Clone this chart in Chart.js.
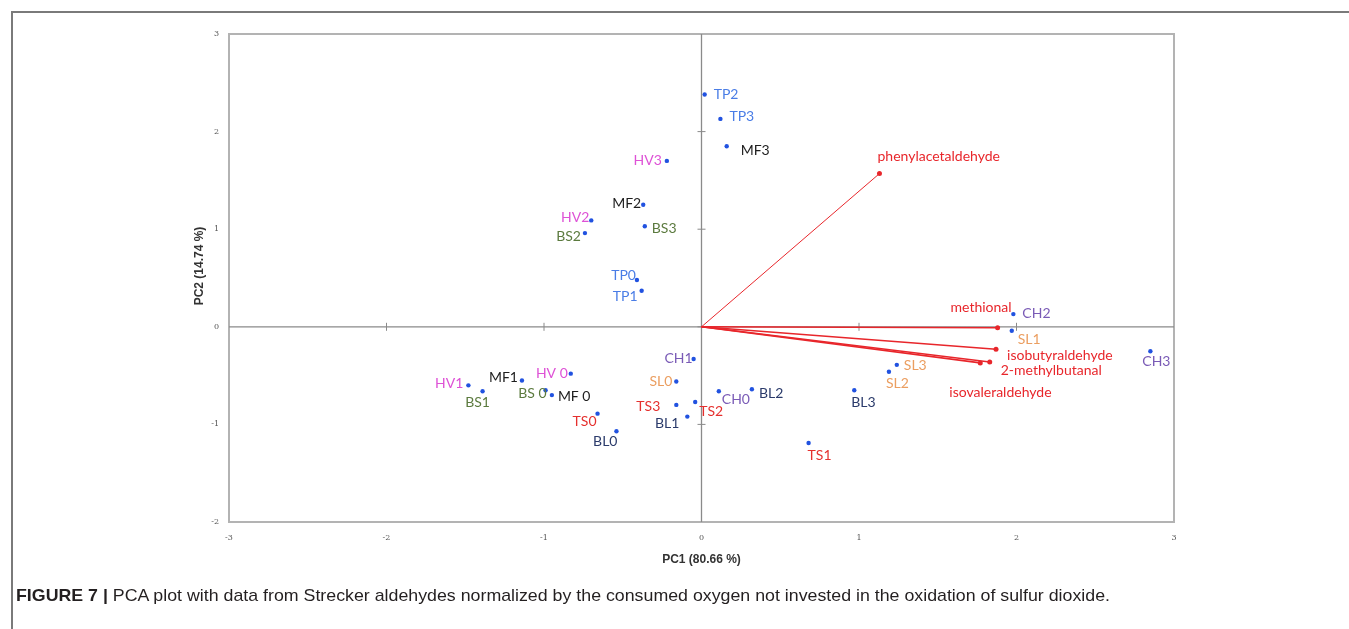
<!DOCTYPE html>
<html>
<head>
<meta charset="utf-8">
<script src="https://cdn.jsdelivr.net/npm/chart.js@4.4.1/dist/chart.umd.min.js"></script>
<style>
  html, body { margin:0; padding:0; background:#fff; }
  #wrap { position:relative; width:1349px; height:629px; overflow:hidden; }
  #frameTop { position:absolute; left:11px; top:11px; width:1338px; height:0; border-top:2px solid #7a7a7a; }
  #frameLeft { position:absolute; left:11px; top:11px; width:0; height:618px; border-left:2px solid #7a7a7a; }
  #cv { position:absolute; left:0; top:0; }
  #caption { position:absolute; left:16px; top:586px; white-space:nowrap; font-family:"Liberation Sans", Arial, sans-serif; font-size:17px; color:#231f20; transform-origin:0 0; }
  #caption b { font-weight:bold; }
</style>
</head>
<body>
<div id="wrap">
  <div id="frameTop"></div>
  <div id="frameLeft"></div>
  <canvas id="cv" width="1349" height="629"></canvas>
  <div id="caption"><b>FIGURE 7 |</b> PCA plot with data from Strecker aldehydes normalized by the consumed oxygen not invested in the oxidation of sulfur dioxide.</div>
</div>
<script>
// ---- data ----
const scoreLabels = ["TP2","TP3","MF3","HV3","MF2","BS3","HV2","BS2","TP0","TP1","CH2","SL1","CH3","SL3","SL2","BL3","BL2","CH0","CH1","SL0","TS3","TS2","BL1","TS1","HV1","BS1","MF1","HV 0","BS 0","MF 0","TS0","BL0"];
const scoreX = [0.02,0.12,0.16,-0.22,-0.37,-0.36,-0.70,-0.74,-0.41,-0.38,1.98,1.97,2.85,1.24,1.19,0.97,0.32,0.11,-0.05,-0.16,-0.16,-0.04,-0.09,0.68,-1.48,-1.39,-1.14,-0.83,-0.99,-0.95,-0.66,-0.54];
const scoreY = [2.38,2.13,1.85,1.70,1.25,1.03,1.09,0.96,0.48,0.37,0.13,-0.04,-0.25,-0.39,-0.46,-0.65,-0.64,-0.66,-0.33,-0.56,-0.80,-0.77,-0.92,-1.19,-0.60,-0.66,-0.55,-0.48,-0.65,-0.70,-0.89,-1.07];
const loadingNames = ["phenylacetaldehyde","methional","isobutyraldehyde","2-methylbutanal","isovaleraldehyde"];
const loadingX = [1.13,1.88,1.87,1.83,1.77];
const loadingY = [1.57,-0.01,-0.23,-0.36,-0.37];
const xTicks = [-3,-2,-1,0,1,2,3];
const yTicks = [-2,-1,0,1,2,3];
const xTitle = "PC1 (80.66 %)";
const yTitle = "PC2 (14.74 %)";

// ---- label styling (offsets relative to the point, px) ----
const groupColors = { TP:"#4a7de6", MF:"#1e1e1e", HV:"#de52d6", BS:"#5b7a3e", TS:"#e5302e", BL:"#2b3b6b", CH:"#7a5bb6", SL:"#eb9e60" };
const loadingColor = "#e8262b";
const scoreLabelPlace = {
  "TP2":[9,0,"left"], "TP3":[9,-2,"left"], "MF3":[14,4,"left"], "HV3":[-5,0,"right"],
  "MF2":[-2,-1,"right"], "BS3":[7,2,"left"], "HV2":[-2,-3,"right"], "BS2":[-4,3,"right"],
  "TP0":[-1,-4,"right"], "TP1":[-4,6,"right"], "CH2":[9,-1,"left"], "SL1":[6,9,"left"],
  "CH3":[6,10,"center"], "SL3":[7,1,"left"], "SL2":[-3,12,"left"], "BL3":[-3,12,"left"],
  "BL2":[7,4,"left"], "CH0":[3,8,"left"], "CH1":[-1,-1,"right"], "SL0":[-4,0,"right"],
  "TS3":[-16,2,"right"], "TS2":[4,10,"left"], "BL1":[-8,7,"right"], "TS1":[-1,13,"left"],
  "HV1":[-5,-2,"right"], "BS1":[-5,11,"center"], "MF1":[-4,-3,"right"], "HV 0":[-3,0,"right"],
  "BS 0":[1,3,"right"], "MF 0":[6,1,"left"], "TS0":[-1,8,"right"], "BL0":[1,10,"right"]
};
const loadingLabelPlace = {
  "phenylacetaldehyde":[-2,-17,"left"], "methional":[14,-20,"right"],
  "isobutyraldehyde":[11,6,"left"], "2-methylbutanal":[11,9,"left"], "isovaleraldehyde":[-31,30,"left"]
};

// ---- datasets ----
const scorePoints = scoreLabels.map((l,i)=>({x:scoreX[i], y:scoreY[i]}));
const loadingSets = loadingNames.map((n,i)=>({
  label:n, type:"scatter", showLine:true,
  data:[{x:0,y:0},{x:loadingX[i],y:loadingY[i]}],
  borderColor:loadingColor, backgroundColor:loadingColor,
  borderWidth: i===0 ? 1 : 1.6, pointRadius:[0,2.5], pointBorderWidth:0
}));

const framePlugin = {
  id:"frame",
  beforeDatasetsDraw(chart){
    const {ctx, chartArea:a, scales:{x,y}} = chart;
    ctx.save();
    ctx.strokeStyle="#b3b3b3"; ctx.lineWidth=2;
    ctx.strokeRect(a.left, a.top, a.right-a.left, a.bottom-a.top);
    const x0 = x.getPixelForValue(0), y0 = y.getPixelForValue(0);
    ctx.strokeStyle="#8a8a8a"; ctx.lineWidth=1.3;
    ctx.beginPath(); ctx.moveTo(a.left,y0); ctx.lineTo(a.right,y0);
    ctx.moveTo(x0,a.top); ctx.lineTo(x0,a.bottom); ctx.stroke();
    ctx.lineWidth=1;
    ctx.beginPath();
    xTicks.forEach(v=>{ if(v>x.min && v<x.max){ const px=x.getPixelForValue(v); ctx.moveTo(px,y0-4); ctx.lineTo(px,y0+4);} });
    yTicks.forEach(v=>{ if(v>y.min && v<y.max){ const py=y.getPixelForValue(v); ctx.moveTo(x0-4,py); ctx.lineTo(x0+4,py);} });
    ctx.stroke();
    // y axis title (drawn slightly above the axis centre, as in the source)
    ctx.save();
    ctx.translate(200, (a.top+a.bottom)/2 - 12);
    ctx.rotate(-Math.PI/2);
    ctx.font = "bold 12px 'Liberation Sans', Arial, sans-serif";
    ctx.fillStyle = "#333"; ctx.textAlign="center"; ctx.textBaseline="middle";
    ctx.fillText(yTitle, 0, 0);
    ctx.restore();
    ctx.restore();
  },
  afterDatasetsDraw(chart){
    const {ctx, scales:{x,y}} = chart;
    ctx.save();
    ctx.font = "14px Lato, 'Open Sans', sans-serif";
    ctx.textBaseline = "middle";
    scoreLabels.forEach((l,i)=>{
      const p = scoreLabelPlace[l] || [6,0,"left"];
      ctx.fillStyle = groupColors[l.slice(0,2)] || "#000";
      ctx.textAlign = p[2];
      ctx.fillText(l, x.getPixelForValue(scoreX[i])+p[0], y.getPixelForValue(scoreY[i])+p[1]);
    });
    ctx.fillStyle = loadingColor;
    loadingNames.forEach((n,i)=>{
      const p = loadingLabelPlace[n];
      ctx.textAlign = p[2];
      ctx.fillText(n, x.getPixelForValue(loadingX[i])+p[0], y.getPixelForValue(loadingY[i])+p[1]);
    });
    ctx.restore();
  }
};

const chart = new Chart(document.getElementById("cv"), {
  type:"scatter",
  data:{ datasets:[
    ...loadingSets,
    { label:"scores", data:scorePoints, backgroundColor:"#2152e0", borderWidth:0, pointRadius:2.2 }
  ]},
  options:{
    responsive:false, animation:false, events:[],
    layout:{ padding:{ left:193, top:34, right:175, bottom:60 } },
    plugins:{ legend:{display:false}, tooltip:{enabled:false} },
    scales:{
      x:{ type:"linear", min:-3, max:3,
        afterBuildTicks: s => { s.ticks = xTicks.map(v=>({value:v})); },
        afterFit: s => { s.height = 47; },
        grid:{ display:false, drawTicks:false }, border:{ display:false },
        ticks:{ color:"#555", padding:11, font:{ family:"'DejaVu Serif', serif", size:8 }, callback:v=>String(v) },
        title:{ display:true, text:xTitle, color:"#333", font:{ family:"'Liberation Sans', Arial", size:12, weight:"bold" }, padding:{top:0,bottom:2} }
      },
      y:{ type:"linear", min:-2, max:3,
        afterBuildTicks: s => { s.ticks = yTicks.map(v=>({value:v})); },
        afterFit: s => { s.width = 36; },
        grid:{ display:false, drawTicks:false }, border:{ display:false },
        ticks:{ color:"#555", padding:10, font:{ family:"'DejaVu Serif', serif", size:8 }, callback:v=>String(v) },
        title:{ display:false }
      }
    }
  },
  plugins:[framePlugin]
});

const cap = document.getElementById("caption");
const w = cap.getBoundingClientRect().width;
cap.style.transform = "scaleX(" + (1094 / w) + ")";
</script>
</body>
</html>
